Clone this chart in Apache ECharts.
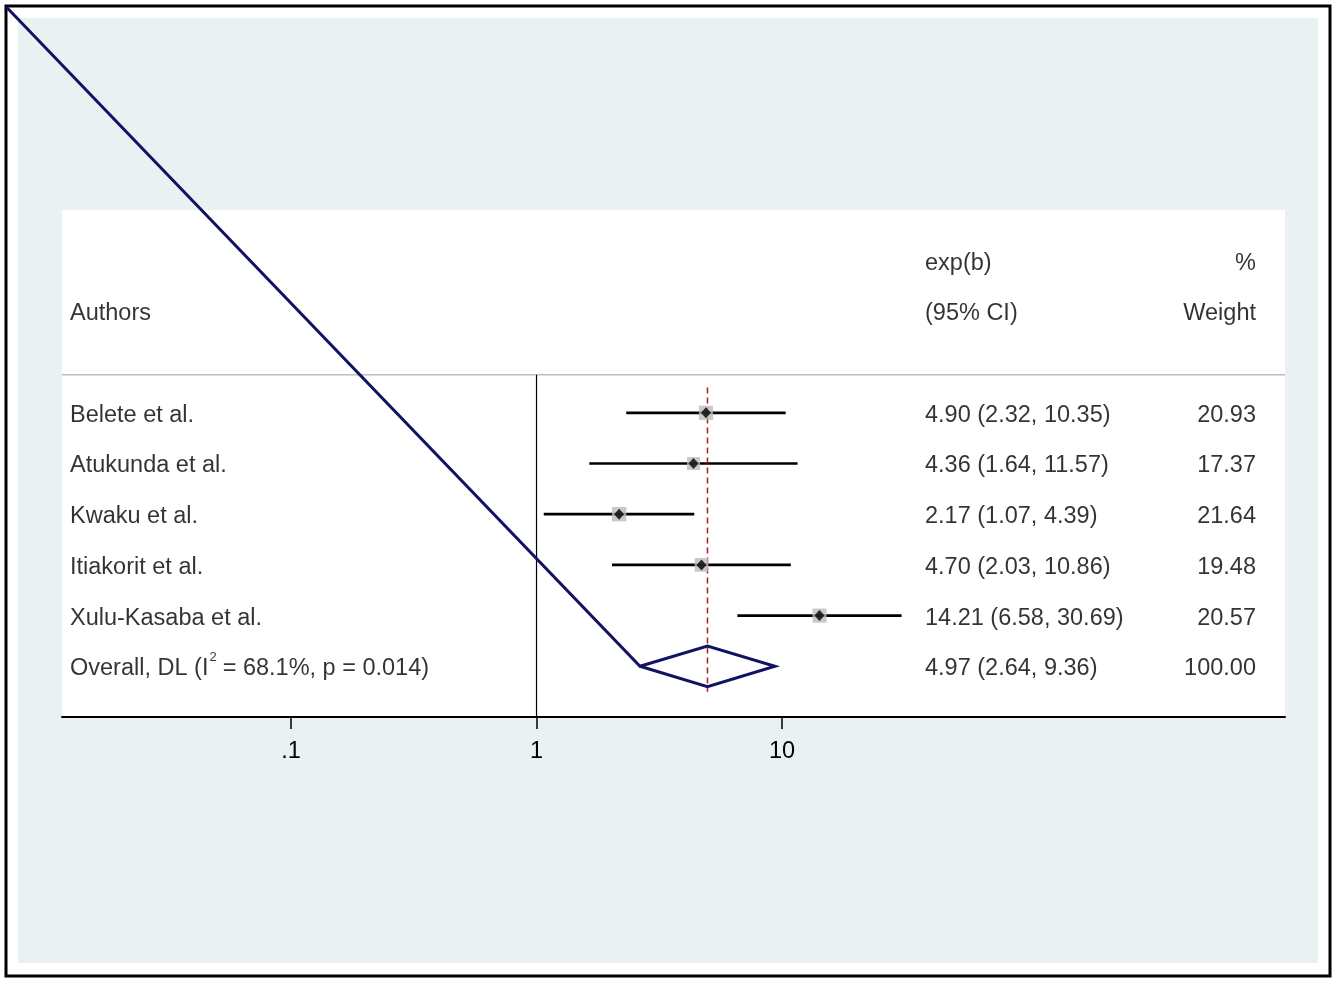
<!DOCTYPE html>
<html>
<head>
<meta charset="utf-8">
<script src="https://cdn.jsdelivr.net/npm/echarts@6/dist/echarts.min.js"></script>
<style>
html, body { margin: 0; padding: 0; background: #fff; }
#main { width: 1337px; height: 982px; }
</style>
</head>
<body>
<div id="main"></div>
<script>
// study rows
var authors = ['Belete et al.', 'Atukunda et al.', 'Kwaku et al.', 'Itiakorit et al.', 'Xulu-Kasaba et al.'];
var est = [4.90, 4.36, 2.17, 4.70, 14.21];
var ciLow = [2.32, 1.64, 1.07, 2.03, 6.58];
var ciHigh = [10.35, 11.57, 4.39, 10.86, 30.69];
var weight = [20.93, 17.37, 21.64, 19.48, 20.57];

// pooled estimate (DerSimonian-Laird)
var overallEst = 4.97;
var overallLow = 2.64;
var overallHigh = 9.36;
var overallWeight = 100.00;
var i2 = '68.1%';
var pHet = '0.014';

// axis ticks
var tickValues = [0.1, 1, 10];

// stray line start that stata draws into the diamond path
var strayStart = [0.00694, -8];

var FONT = '"Liberation Sans", Arial, Helvetica, sans-serif';
var FS = 23.5;
var NAVY = '#121262';

// text columns on a hidden layout axis (same span as the plot region)
var colMin = 62, colMax = 1285;
var colAuthor = 70, colEst = 925, colWeight = 1256;

var mychart = echarts.init(document.getElementById('main'));

var overallRow = authors.length;

function fmt(v) { return v.toFixed(2); }

var textData = [
    { value: [colEst, -3], label: { formatter: 'exp(b)', align: 'left' } },
    { value: [colWeight, -3], label: { formatter: '%', align: 'right' } },
    { value: [colAuthor, -2], label: { formatter: 'Authors', align: 'left' } },
    { value: [colEst, -2], label: { formatter: '(95% CI)', align: 'left' } },
    { value: [colWeight, -2], label: { formatter: 'Weight', align: 'right' } }
];
authors.forEach(function (a, i) {
    textData.push({ value: [colAuthor, i], label: { formatter: a, align: 'left' } });
    textData.push({ value: [colEst, i], label: { formatter: fmt(est[i]) + ' (' + fmt(ciLow[i]) + ', ' + fmt(ciHigh[i]) + ')', align: 'left' } });
    textData.push({ value: [colWeight, i], label: { formatter: fmt(weight[i]), align: 'right' } });
});
textData.push({
    value: [colAuthor, overallRow],
    label: {
        formatter: 'Overall, DL (I{sup|2}= ' + i2 + ', p = ' + pHet + ')',
        align: 'left',
        lineHeight: 36,
        rich: { sup: { fontSize: 13, lineHeight: 13, verticalAlign: 'top', padding: [0, 6, 0, 1], fontFamily: FONT, color: '#000' } }
    }
});
textData.push({ value: [colEst, overallRow], label: { formatter: fmt(overallEst) + ' (' + fmt(overallLow) + ', ' + fmt(overallHigh) + ')', align: 'left' } });
textData.push({ value: [colWeight, overallRow], label: { formatter: fmt(overallWeight), align: 'right' } });

var ciData = authors.map(function (a, i) { return [ciLow[i], ciHigh[i], i]; });
var boxData = authors.map(function (a, i) {
    var s = 3.1 * Math.sqrt(weight[i]);
    return { value: [est[i], i], symbolSize: [s, s] };
});
var pointData = authors.map(function (a, i) { return [est[i], i]; });
var dh = 0.4;
var diamondData = [
    strayStart,
    [overallLow, overallRow],
    [overallEst, overallRow - dh],
    [overallHigh, overallRow],
    [overallEst, overallRow + dh],
    [overallLow, overallRow]
];

var option = {
    backgroundColor: '#fff',
    animation: false,
    textStyle: { fontFamily: FONT },
    graphic: [
        {
            type: 'rect', z: -2, silent: true,
            shape: { x: 18, y: 18, width: 1300, height: 945 },
            style: { fill: '#eaf1f3' }
        },
        {
            type: 'rect', z: -2, silent: true,
            shape: { x: 6, y: 6, width: 1324, height: 970 },
            style: { fill: 'none', stroke: '#000', lineWidth: 3 }
        }
    ],
    grid: {
        left: colMin,
        right: 1337 - colMax,
        top: 210,
        bottom: 982 - 717,
        show: true,
        backgroundColor: '#fff',
        borderWidth: 0
    },
    xAxis: [
        {
            type: 'log',
            logBase: 10,
            min: 0.01167,
            max: 1119,
            axisLine: { show: true, onZero: false, lineStyle: { color: '#000', width: 2 } },
            axisTick: { show: true, customValues: tickValues, length: 12, lineStyle: { color: '#000', width: 1.5 } },
            axisLabel: {
                customValues: tickValues,
                color: '#000',
                fontSize: FS,
                fontFamily: FONT,
                margin: 23,
                formatter: function (v) {
                    return String(+(+v).toPrecision(3)).replace(/^0\./, '.');
                }
            },
            splitLine: { show: false },
            minorTick: { show: false }
        },
        {
            type: 'value',
            position: 'top',
            min: colMin,
            max: colMax,
            show: false
        }
    ],
    yAxis: {
        type: 'value',
        inverse: true,
        min: -4,
        max: 6,
        show: false
    },
    series: [
        {
            // header separator
            type: 'line', xAxisIndex: 1, symbol: 'none', silent: true,
            data: [[colMin, -0.75], [colMax, -0.75]],
            lineStyle: { color: '#bdbdbd', width: 1.5 }
        },
        {
            // null line
            type: 'line', symbol: 'none', silent: true,
            data: [[1, -0.75], [1, 6]],
            lineStyle: { color: '#000', width: 1.2 }
        },
        {
            // overall effect line
            type: 'line', symbol: 'none', silent: true, z: 4,
            data: [[overallEst, -0.5], [overallEst, overallRow + 0.5]],
            lineStyle: { color: '#b01c24', width: 1.5, type: [6, 4] }
        },
        {
            type: 'custom',
            data: ciData,
            encode: { x: [0, 1], y: 2 },
            z: 3,
            renderItem: function (params, api) {
                var a = api.coord([api.value(0), api.value(2)]);
                var b = api.coord([api.value(1), api.value(2)]);
                return {
                    type: 'line',
                    shape: { x1: a[0], y1: a[1], x2: b[0], y2: b[1] },
                    style: { stroke: '#000', lineWidth: 2.7 }
                };
            }
        },
        {
            type: 'scatter', symbol: 'rect', z: 5,
            data: boxData,
            itemStyle: { color: '#bcbcbc' }
        },
        {
            type: 'scatter', symbol: 'diamond', symbolSize: [10, 11], z: 6,
            data: pointData,
            itemStyle: { color: '#000' }
        },
        {
            // pooled diamond, with the stray leading segment
            type: 'custom', clip: false, z: 7, silent: true,
            data: [[overallLow, overallHigh, overallRow]],
            encode: { x: [0, 1], y: 2 },
            renderItem: function (params, api) {
                var pts = diamondData.map(function (d) { return api.coord(d); });
                return {
                    type: 'polyline',
                    shape: { points: pts },
                    style: { stroke: NAVY, lineWidth: 3, fill: null, lineJoin: 'miter' }
                };
            }
        },
        {
            type: 'scatter', xAxisIndex: 1, symbolSize: 0, silent: true, z: 8,
            data: textData,
            label: {
                show: true,
                position: 'inside',
                verticalAlign: 'middle',
                offset: [0, 2.5],
                color: '#000',
                fontSize: FS,
                fontFamily: FONT
            }
        }
    ]
};

mychart.setOption(option);
</script>
</body>
</html>
